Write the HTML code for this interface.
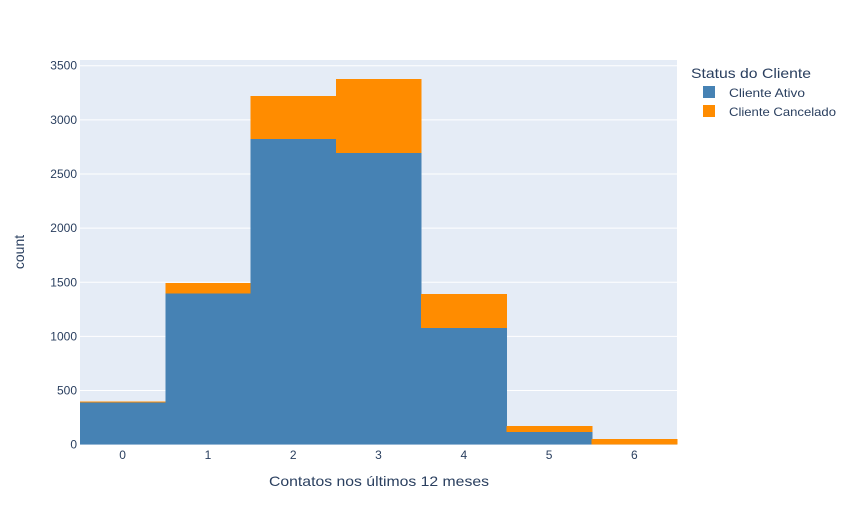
<!DOCTYPE html>
<html><head><meta charset="utf-8"><style>
body{margin:0;background:#fff;font-family:"Liberation Sans",sans-serif}
svg text{font-family:"Liberation Sans",sans-serif;fill:#2a3f5f}
</style></head><body>
<svg id="c" width="854" height="525">
<rect x="80" y="60" width="597" height="385" fill="#e5ecf6"/>
<g id="grid"></g><g id="bars" shape-rendering="crispEdges"></g><g id="axes"></g>
<text x="269" y="486" textLength="220" lengthAdjust="spacingAndGlyphs" font-size="14">Contatos nos últimos 12 meses</text>
<text transform="translate(24,252) rotate(-90)" text-anchor="middle" font-size="14">count</text>
<g>
<text x="691" y="78" font-size="14" textLength="120" lengthAdjust="spacingAndGlyphs">Status do Cliente</text>
<g><rect x="703" y="86" width="12" height="12" fill="#4682b4"/><text x="729" y="97" font-size="12" textLength="76" lengthAdjust="spacingAndGlyphs">Cliente Ativo</text></g>
<g><rect x="703" y="105" width="12" height="12" fill="#ff8c00"/><text x="729" y="116" font-size="12" textLength="107" lengthAdjust="spacingAndGlyphs">Cliente Cancelado</text></g>
</g>
</svg>
<script>
const categories=[0,1,2,3,4,5,6];
const ativo=[388,1394,2823,2694,1080,117,0];
const cancelado=[9,99,397,683,311,55,53];
const yTicks=[0,500,1000,1500,2000,2500,3000,3500];
const NS="http://www.w3.org/2000/svg";
const x0=80,x1=677,yb=444.7,yt=60;
const bw=(x1-x0)/categories.length;
const xs=i=>x0+i*bw;
const ys=v=>yb-v*(379/3500);
function mk(t,a,p){const e=document.createElementNS(NS,t);for(const k in a)e.setAttribute(k,a[k]);p.appendChild(e);return e;}
const grid=document.getElementById('grid'),bars=document.getElementById('bars'),axes=document.getElementById('axes');
yTicks.forEach(v=>{
 if(v>0){const l=mk('line',{x1:x0,x2:x1,y1:ys(v),y2:ys(v),stroke:'#fff','stroke-width':1},grid);
 
 }
 const t=mk('text',{x:x0-3,y:ys(v)+4,'text-anchor':'end','font-size':12},axes);t.textContent=v;
 
 
});
categories.forEach((c,i)=>{
 const a=mk('rect',{x:xs(i),y:ys(ativo[i]),width:bw+0.6,height:yb-ys(ativo[i]),fill:'#4682b4'},bars);
 
 
 const tot=ativo[i]+cancelado[i];
 const b=mk('rect',{x:xs(i),y:ys(tot),width:bw+0.6,height:ys(ativo[i])-ys(tot),fill:'#ff8c00'},bars);
 
 
 const t=mk('text',{x:xs(i)+bw/2,y:459,'text-anchor':'middle','font-size':12},axes);t.textContent=c;
 
 
});
</script>
</body></html>
